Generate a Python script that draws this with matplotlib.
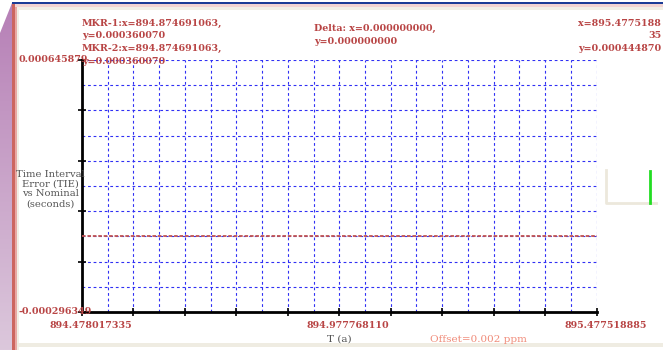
import numpy as np
import matplotlib
matplotlib.use("Agg")
import matplotlib.pyplot as plt
from matplotlib.patches import Polygon, Rectangle
from matplotlib.lines import Line2D

# TIE trace (time in s, error in s)
time_s = [894.478017335, 894.977768110, 895.477518885]
tie_s = [-0.0000136806, -0.0000136806, -0.0000136806]

x_min, x_mid, x_max = 894.478017335, 894.977768110, 895.477518885
y_min, y_max = -0.000296349, 0.000645879
x_labels = ["894.478017335", "894.977768110", "895.477518885"]
y_labels = ["0.000645879", "-0.000296349"]

mkr_lines = ["MKR-1:x=894.874691063,", "y=0.000360070",
             "MKR-2:x=894.874691063,", "y=0.000360070"]
delta_lines = ["Delta: x=0.000000000,", "y=0.000000000"]
cursor_lines = ["x=895.4775188", "35", "y=0.000444870"]

RED = "#b84444"
GRID = "#3030f4"
W, H = 663, 350

fig = plt.figure(figsize=(W / 100, H / 100), dpi=100)
fig.patch.set_facecolor("white")

# window frame, drawn in pixel coordinates
frame = fig.add_axes([0, 0, 1, 1], zorder=-1)
frame.set_xlim(0, W)
frame.set_ylim(H, 0)
frame.axis("off")
grad = np.linspace(0, 1, 256).reshape(-1, 1)
cmap = matplotlib.colors.LinearSegmentedColormap.from_list("side", ["#b67fb6", "#dcc8dc"])
im = frame.imshow(grad, extent=(0, 12, H, 0), cmap=cmap, aspect="auto")
im.set_clip_path(Polygon([(0, 33), (12, 3), (12, H), (0, H)], closed=True,
                         transform=frame.transData))
frame.add_patch(Rectangle((11.5, 3), 3.5, H, color="#cc6660", lw=0))
frame.add_patch(Rectangle((15, 3), 1.5, H, color="#e8a8a4", lw=0))
frame.add_patch(Rectangle((11.5, 1.5), W, 2.5, color="#1c3c96", lw=0))
frame.add_patch(Rectangle((15, 4), W, 3, color="#f2d4d2", lw=0))
frame.add_patch(Rectangle((16.5, 7), W, 3, color="#f1efe6", lw=0))
frame.add_patch(Rectangle((16.5, 7), 2, H, color="#f1efe6", lw=0))
frame.add_patch(Rectangle((16.5, 343), W, 4, color="#efece2", lw=0))

# little trace indicator on the right
frame.add_line(Line2D([606, 606, 656], [170, 203, 203], color="#ece8dc", lw=2))
frame.add_line(Line2D([650, 650], [171, 203], color="#22dd22", lw=2))

ax = fig.add_axes([82 / W, 1 - 312 / H, (596.5 - 82) / W, (312 - 60) / H])
ax.set_facecolor("none")
ax.set_xlim(x_min, x_max)
ax.set_ylim(y_min, y_max)

ax.set_xticks(np.linspace(x_min, x_max, 11))
ax.set_xticks(np.linspace(x_min, x_max, 21), minor=True)
ax.set_yticks(np.linspace(y_min, y_max, 6))
ax.set_yticks(np.linspace(y_min, y_max, 11), minor=True)
ax.set_xticklabels([])
ax.set_yticklabels([])
ax.tick_params(which="major", direction="inout", length=6, width=1.2, color="black")
ax.tick_params(which="minor", length=0)
ax.grid(True, which="both", color=GRID, linestyle=(0, (2.5, 2.5)), linewidth=0.8)

for side in ("top", "right"):
    ax.spines[side].set_visible(False)
for side in ("left", "bottom"):
    ax.spines[side].set_linewidth(2)
    ax.spines[side].set_color("black")

ax.plot(time_s, tie_s, color="#c05252", linestyle=(0, (2, 1)), linewidth=1.3, zorder=3)

lbl = dict(color=RED, fontsize=6.8, fontweight="bold", family="DejaVu Serif")

# x-axis values, nudged a little right of their ticks
for xv, s in zip([x_min, x_mid, x_max], x_labels):
    ax.annotate(s, (xv, 0), xycoords=("data", "axes fraction"), xytext=(6.5, -10),
                textcoords="offset points", ha="center", va="center", **lbl)
ax.annotate(y_labels[0], (0, 1), xycoords="axes fraction", xytext=(4, 0),
            textcoords="offset points", ha="right", va="center", **lbl)
ax.annotate(y_labels[1], (0, 0), xycoords="axes fraction", xytext=(7, 0),
            textcoords="offset points", ha="right", va="center", **lbl)

fig.text(339 / W, 1 - 339 / H, "T (a)", color="#555555", fontsize=7.5,
         family="DejaVu Serif", ha="center", va="center")
fig.text(430 / W, 1 - 339 / H, "Offset=0.002 ppm", color="#f08a78", fontsize=7.5,
         family="DejaVu Serif", ha="left", va="center")
fig.text(50 / W, 1 - 189 / H, "Time Interval\nError (TIE)\nvs Nominal\n(seconds)",
         color="#555555", fontsize=7.2, family="DejaVu Serif", ha="center",
         va="center", linespacing=1.1)

for i, s in enumerate(mkr_lines):
    fig.text(82 / W, 1 - (23 + 12.7 * i) / H, s, ha="left", va="center", **lbl)
for i, s in enumerate(delta_lines):
    fig.text(314 / W, 1 - (28 + 13 * i) / H, s, ha="left", va="center", **lbl)
for i, s in enumerate(cursor_lines):
    fig.text(661 / W, 1 - (23 + 12.7 * i) / H, s, ha="right", va="center", **lbl)

fig.savefig("out.png", dpi=100)
